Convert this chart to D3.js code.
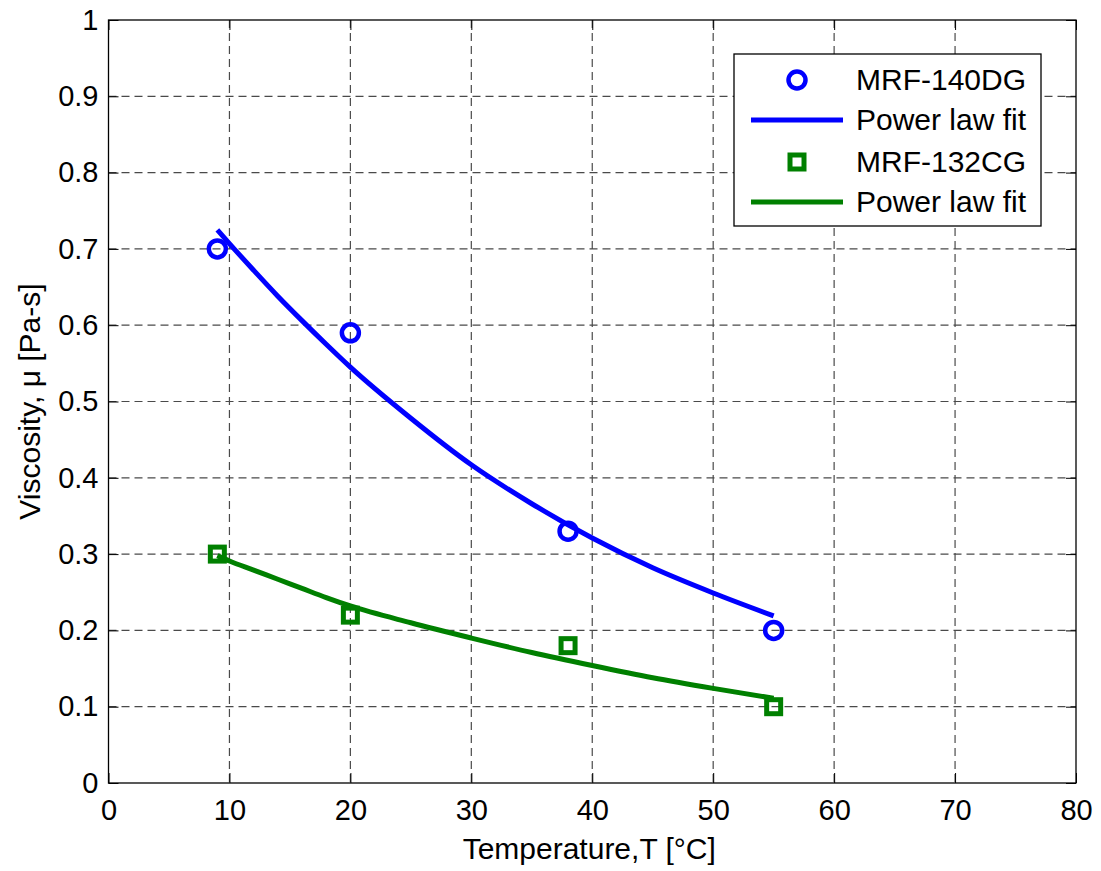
<!DOCTYPE html>
<html><head><meta charset="utf-8">
<script src="https://cdn.jsdelivr.net/npm/d3@7"></script>
<style>body{margin:0;background:#fff;} text{font-family:"Liberation Sans",Arial,sans-serif;}</style>
</head><body><svg id="c" width="1101" height="871"></svg>
<script>
const xTicks = [0,10,20,30,40,50,60,70,80];
const yTicks = [0,0.1,0.2,0.3,0.4,0.5,0.6,0.7,0.8,0.9,1];
const yTickLabels = ["0","0.1","0.2","0.3","0.4","0.5","0.6","0.7","0.8","0.9","1"];
const tempData = [9,20,38,55];
const mrf140 = [0.70,0.59,0.33,0.20];
const mrf132 = [0.30,0.22,0.18,0.10];
const fitT = [9,10,12,14,16,18,20,25,30,35,40,45,50,55];
const fit140 = [0.725,0.707,0.672,0.638,0.606,0.575,0.545,0.478,0.417,0.366,0.321,0.282,0.249,0.219];
const fit132 = [0.298,0.291,0.279,0.267,0.255,0.243,0.232,0.210,0.190,0.171,0.154,0.138,0.124,0.111];
const legendLabels = ["MRF-140DG","Power law fit","MRF-132CG","Power law fit"];

const svg = d3.select("#c");
const L=108.5, R=1076, T=20, B=783;
const x = d3.scaleLinear().domain([0,80]).range([L,R]);
const y = d3.scaleLinear().domain([0,1]).range([B,T]);
const blue="#0000ff", green="#008000";

// grid
const g = svg.append("g");
g.selectAll(".gx").data(xTicks.slice(1,-1)).enter().append("line")
 .attr("x1",d=>x(d)).attr("x2",d=>x(d)).attr("y1",T).attr("y2",B)
 .attr("stroke","#4a4a4a").attr("stroke-width",1.2).attr("stroke-dasharray","8,5");
g.selectAll(".gy").data(yTicks.slice(1,-1)).enter().append("line")
 .attr("y1",d=>y(d)).attr("y2",d=>y(d)).attr("x1",L).attr("x2",R)
 .attr("stroke","#4a4a4a").attr("stroke-width",1.2).attr("stroke-dasharray","8,5");

// axes
const xa = svg.append("g").attr("transform",`translate(0,${B})`)
 .call(d3.axisBottom(x).tickValues(xTicks).tickSize(-10).tickPadding(16).tickFormat(d3.format("d")));
const xt = svg.append("g").attr("transform",`translate(0,${T})`)
 .call(d3.axisTop(x).tickValues(xTicks).tickSize(-10).tickFormat(""));
const ya = svg.append("g").attr("transform",`translate(${L},0)`)
 .call(d3.axisLeft(y).tickValues(yTicks).tickSize(-10).tickPadding(10).tickFormat((d,i)=>yTickLabels[i]));
const yr = svg.append("g").attr("transform",`translate(${R},0)`)
 .call(d3.axisRight(y).tickValues(yTicks).tickSize(-10).tickFormat(""));
[xa,xt,ya,yr].forEach(a=>{
  a.selectAll("path").remove();
  a.selectAll("line").attr("stroke","#000").attr("stroke-width",1);
  a.selectAll("text").attr("font-size",29).attr("fill","#000").style("font-family","Liberation Sans, Arial, sans-serif");
});
svg.append("rect").attr("x",L).attr("y",T).attr("width",R-L).attr("height",B-T)
 .attr("fill","none").attr("stroke","#000").attr("stroke-width",1.3);

// labels
svg.append("text").attr("x",(L+R)/2-3).attr("y",859).attr("text-anchor","middle")
 .attr("font-size",30).text("Temperature,T [°C]");
svg.append("text").attr("transform",`translate(40,${(T+B)/2}) rotate(-90)`).attr("text-anchor","middle")
 .attr("font-size",30).text("Viscosity, μ [Pa-s]");

// fits
const line = d3.line().x(d=>x(d[0])).y(d=>y(d[1])).curve(d3.curveMonotoneX);
svg.append("path").datum(fitT.map((t,i)=>[t,fit140[i]])).attr("d",line)
 .attr("fill","none").attr("stroke",blue).attr("stroke-width",5);
svg.append("path").datum(fitT.map((t,i)=>[t,fit132[i]])).attr("d",line)
 .attr("fill","none").attr("stroke",green).attr("stroke-width",5);

// markers
svg.selectAll(".c").data(tempData.map((t,i)=>[t,mrf140[i]])).enter().append("circle")
 .attr("cx",d=>x(d[0])).attr("cy",d=>y(d[1])).attr("r",8.5)
 .attr("fill","none").attr("stroke",blue).attr("stroke-width",4.5);
svg.selectAll(".s").data(tempData.map((t,i)=>[t,mrf132[i]])).enter().append("rect")
 .attr("x",d=>x(d[0])-7).attr("y",d=>y(d[1])-7).attr("width",14).attr("height",14)
 .attr("fill","none").attr("stroke",green).attr("stroke-width",5);

// legend
const lg = svg.append("g");
lg.append("rect").attr("x",734).attr("y",54).attr("width",307).attr("height",172)
 .attr("fill","#fff").attr("stroke","#000").attr("stroke-width",1.3);
const rowsY=[80,120,162,202];
lg.append("circle").attr("cx",797).attr("cy",rowsY[0]).attr("r",8.5).attr("fill","none").attr("stroke",blue).attr("stroke-width",4.5);
lg.append("line").attr("x1",751).attr("x2",843).attr("y1",rowsY[1]).attr("y2",rowsY[1]).attr("stroke",blue).attr("stroke-width",5);
lg.append("rect").attr("x",797-7).attr("y",rowsY[2]-7).attr("width",14).attr("height",14).attr("fill","none").attr("stroke",green).attr("stroke-width",5);
lg.append("line").attr("x1",751).attr("x2",843).attr("y1",rowsY[3]).attr("y2",rowsY[3]).attr("stroke",green).attr("stroke-width",5);
lg.selectAll(".lt").data(legendLabels).enter().append("text")
 .attr("x",856).attr("y",(d,i)=>rowsY[i]+10).attr("font-size",30).text(d=>d);
</script></body></html>
